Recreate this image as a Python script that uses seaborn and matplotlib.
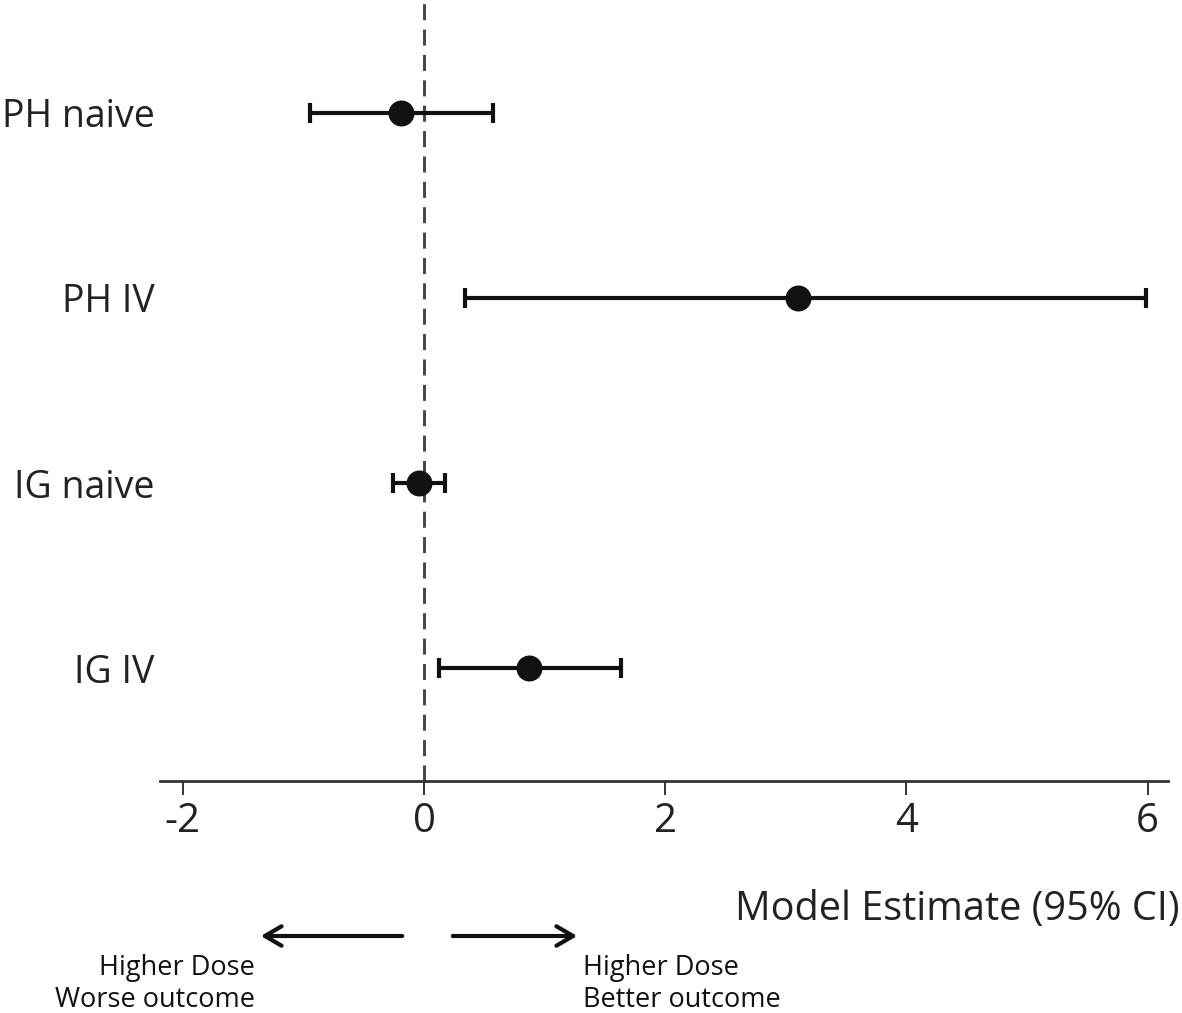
import matplotlib
matplotlib.use("Agg")
import matplotlib.pyplot as plt
import seaborn as sns
import pandas as pd
import numpy as np

groups = ["PH naive", "PH IV", "IG naive", "IG IV"]
estimates = [-0.19, 3.10, -0.04, 0.87]
ci_low = [-0.95, 0.34, -0.26, 0.12]
ci_high = [0.57, 5.99, 0.17, 1.63]
xticks = [-2, 0, 2, 4, 6]

sns.set_theme(style="white")
FONT = ["Open Sans", "DejaVu Sans"]
plt.rcParams["font.family"] = FONT

df = pd.DataFrame({"group": groups, "est": estimates, "lo": ci_low, "hi": ci_high})
df["pos"] = np.arange(len(groups))

W, H = 1182, 1013
fig = plt.figure(figsize=(W / 100, H / 100), dpi=100)
ax = fig.add_axes([160 / W, 1 - 781 / H, (1168 - 160) / W, 781 / H])

ax.axvline(0, color="#444444", lw=2.1, linestyle=(0, (5.5, 3.2)), zorder=1)
ax.errorbar(df["est"], df["pos"], xerr=[df["est"] - df["lo"], df["hi"] - df["est"]],
            fmt="none", ecolor="#111111", elinewidth=3, capsize=7.2, capthick=3, zorder=2)
sns.scatterplot(data=df, x="est", y="pos", ax=ax, s=350, color="#111111",
                edgecolor="#111111", linewidth=0, zorder=3, legend=False)

ax.set_xlim(-2.19, 6.17)
ax.set_ylim(3.61, -0.61)
ax.set_yticks(df["pos"])
ax.set_yticklabels(groups, fontsize=27, color="#222222")
ax.set_xticks(xticks)
ax.set_xticklabels([str(t) for t in xticks], fontsize=29, color="#222222")
ax.tick_params(axis="y", length=0, pad=4)
ax.tick_params(axis="x", direction="out", length=10, width=1.3, color="#222222",
               pad=5, bottom=True)
for s in ["top", "right", "left"]:
    ax.spines[s].set_visible(False)
ax.spines["bottom"].set_color("#333333")
ax.spines["bottom"].set_linewidth(2)
ax.set_xlabel("")
ax.set_ylabel("")
ax.grid(False)

def fx(px):
    return px / W

def fy(py):
    return 1 - py / H

fig.text(fx(1180), fy(910), "Model Estimate (95% CI)", ha="right", va="center",
         fontsize=28.5, color="#222222")
fig.patches.append(matplotlib.patches.FancyArrowPatch(
    (fx(405), fy(936)), (fx(258), fy(936)), transform=fig.transFigure,
    arrowstyle="->,head_length=0.6,head_width=0.35", lw=3, color="#111111",
    mutation_scale=20))
fig.patches.append(matplotlib.patches.FancyArrowPatch(
    (fx(450), fy(936)), (fx(580), fy(936)), transform=fig.transFigure,
    arrowstyle="->,head_length=0.6,head_width=0.35", lw=3, color="#111111",
    mutation_scale=20))
fig.text(fx(255), fy(984), "Higher Dose\nWorse outcome", ha="right", va="center",
         fontsize=19.5, color="#111111", linespacing=1.2)
fig.text(fx(583), fy(984), "Higher Dose\nBetter outcome", ha="left", va="center",
         fontsize=19.5, color="#111111", linespacing=1.2)

fig.savefig("out.png", dpi=100, facecolor="white")
